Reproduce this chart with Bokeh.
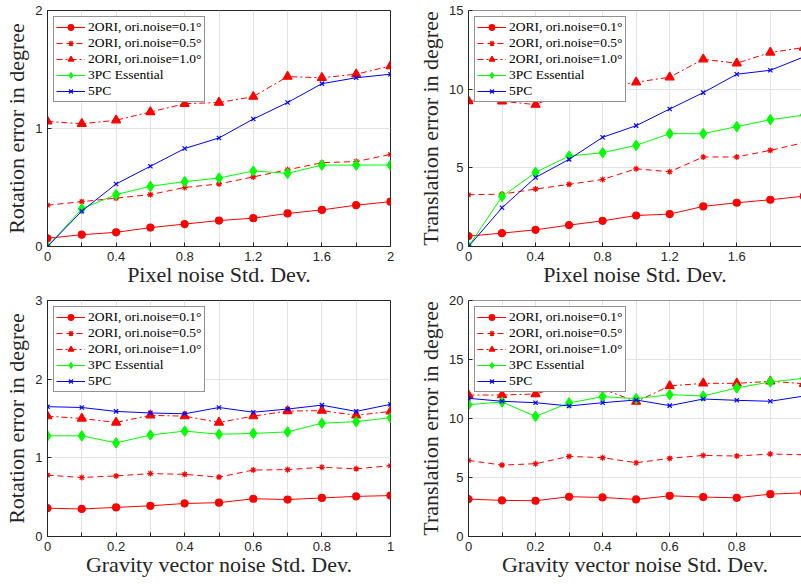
from bokeh.plotting import figure
from bokeh.models import FixedTicker, Range1d, Span
from bokeh.layouts import column, row
from bokeh.embed import file_html
from bokeh.resources import INLINE

# ---------------- data ----------------
pixel_noise = [0.0, 0.2, 0.4, 0.6, 0.8, 1.0, 1.2, 1.4, 1.6, 1.8, 2.0]
gravity_noise = [0.0, 0.1, 0.2, 0.3, 0.4, 0.5, 0.6, 0.7, 0.8, 0.9, 1.0]

labels = ["2ORI, ori.noise=0.1°", "2ORI, ori.noise=0.5°", "2ORI, ori.noise=1.0°",
          "3PC Essential", "5PC"]

# pixel noise -> rotation error
rot_px_01 = [0.07, 0.10, 0.12, 0.16, 0.19, 0.22, 0.24, 0.28, 0.31, 0.35, 0.38]
rot_px_05 = [0.35, 0.38, 0.41, 0.44, 0.50, 0.53, 0.59, 0.65, 0.71, 0.72, 0.78]
rot_px_10 = [1.06, 1.04, 1.07, 1.14, 1.21, 1.22, 1.27, 1.44, 1.43, 1.46, 1.53]
rot_px_3pc = [0.0, 0.32, 0.44, 0.51, 0.55, 0.58, 0.64, 0.62, 0.69, 0.69, 0.69]
rot_px_5pc = [0.0, 0.30, 0.53, 0.68, 0.83, 0.92, 1.08, 1.22, 1.38, 1.43, 1.46]

# pixel noise -> translation error
tra_px_01 = [0.66, 0.85, 1.06, 1.36, 1.63, 1.97, 2.06, 2.55, 2.78, 2.97, 3.2]
tra_px_05 = [3.29, 3.33, 3.65, 3.95, 4.26, 4.94, 4.75, 5.69, 5.69, 6.11, 6.6]
tra_px_10 = [9.25, 9.23, 9.02, 9.9, 10.1, 10.44, 10.76, 11.9, 11.65, 12.33, 12.65]
tra_px_3pc = [0.0, 3.18, 4.71, 5.75, 5.96, 6.43, 7.17, 7.17, 7.62, 8.06, 8.35]
tra_px_5pc = [0.0, 2.46, 4.39, 5.54, 6.94, 7.68, 8.74, 9.78, 10.95, 11.2, 12.05]

# gravity noise -> rotation error
rot_g_01 = [0.36, 0.35, 0.37, 0.39, 0.42, 0.43, 0.48, 0.47, 0.49, 0.51, 0.52]
rot_g_05 = [0.78, 0.75, 0.77, 0.80, 0.79, 0.755, 0.845, 0.85, 0.88, 0.86, 0.90]
rot_g_10 = [1.53, 1.50, 1.45, 1.54, 1.53, 1.45, 1.53, 1.595, 1.60, 1.54, 1.59]
rot_g_3pc = [1.28, 1.28, 1.19, 1.29, 1.34, 1.30, 1.31, 1.33, 1.44, 1.46, 1.51]
rot_g_5pc = [1.65, 1.64, 1.59, 1.57, 1.56, 1.64, 1.58, 1.62, 1.67, 1.59, 1.68]

# gravity noise -> translation error
tra_g_01 = [3.17, 3.06, 3.03, 3.37, 3.31, 3.14, 3.45, 3.34, 3.28, 3.59, 3.7]
tra_g_05 = [6.45, 6.05, 6.17, 6.79, 6.68, 6.25, 6.62, 6.87, 6.82, 6.99, 6.93]
tra_g_10 = [11.99, 11.99, 12.08, 12.9, 12.5, 11.43, 12.76, 12.98, 12.98, 13.15, 12.95]
tra_g_3pc = [11.17, 11.4, 10.18, 11.32, 11.85, 11.68, 12.02, 11.91, 12.59, 13.1, 13.4]
tra_g_5pc = [11.71, 11.46, 11.34, 11.06, 11.34, 11.57, 11.09, 11.65, 11.54, 11.46, 11.9]

px_major = [0, 0.4, 0.8, 1.2, 1.6, 2]
px_minor = [0.2, 0.6, 1.0, 1.4, 1.8]
g_major = [0, 0.2, 0.4, 0.6, 0.8, 1]
g_minor = [0.1, 0.3, 0.5, 0.7, 0.9]

# ---------------- styles ----------------
styles = [
    dict(color="#ff0000", dash="solid", marker="circle", size=7),
    dict(color="#ff0000", dash="6 4", marker="asterisk", size=6),
    dict(color="#ff0000", dash="6 3 2 3", marker="triangle", size=9),
    dict(color="#00ff00", dash="solid", marker="diamond", size=10),
    dict(color="#0000ff", dash="solid", marker="x", size=6),
]

AX = "#262626"
GRID = "#e3e3e3"
SERIF = "Liberation Serif"
SANS = "Liberation Sans"


def make_fig(x, ys, xlabel, ylabel, xr, yr, xmaj, xmin, ymaj, width, height,
             mbl, mbr, mbt, mbb, full_box):
    p = figure(width=width, height=height, output_backend="svg",
               toolbar_location=None, x_range=Range1d(*xr), y_range=Range1d(*yr),
               min_border_left=mbl, min_border_right=mbr,
               min_border_top=mbt, min_border_bottom=mbb)
    p.outline_line_color = AX if full_box else None
    p.background_fill_color = "white"
    p.border_fill_color = "white"

    p.xaxis.ticker = FixedTicker(ticks=xmaj, minor_ticks=xmin)
    p.yaxis.ticker = FixedTicker(ticks=ymaj, minor_ticks=[])
    for ax in (p.xaxis[0], p.yaxis[0]):
        ax.axis_line_color = AX
        ax.major_tick_line_color = AX
        ax.minor_tick_line_color = AX
        ax.major_tick_in = 4
        ax.major_tick_out = 0
        ax.minor_tick_in = 4
        ax.minor_tick_out = 0
        ax.major_label_text_font = SANS
        ax.major_label_text_font_size = "13px"
        ax.major_label_text_color = AX
        ax.major_label_standoff = 5
        ax.axis_label_text_font = SERIF
        ax.axis_label_text_font_size = "22px"
        ax.axis_label_text_font_style = "normal"
        ax.axis_label_text_color = AX
    p.xaxis.axis_label = xlabel
    p.yaxis.axis_label = ylabel
    p.xaxis.axis_label_standoff = -2
    p.yaxis.axis_label_standoff = 3

    if not full_box:
        p.add_layout(Span(location=yr[1], dimension="width", line_color=AX,
                          line_width=1))

    p.xgrid.grid_line_color = GRID
    p.xgrid.minor_grid_line_color = GRID
    p.ygrid.grid_line_color = GRID

    for lab, y, st in zip(labels, ys, styles):
        p.line(x, y, line_color=st["color"], line_width=1, line_dash=st["dash"],
               legend_label=lab)
        p.scatter(x, y, marker=st["marker"], size=st["size"],
                  line_color=st["color"], fill_color=st["color"], line_width=1.2,
                  legend_label=lab)

    lg = p.legend[0]
    lg.location = "top_left"
    lg.margin = 6
    lg.padding = 2
    lg.spacing = 0
    lg.label_height = 14
    lg.glyph_height = 14
    lg.glyph_width = 29
    lg.label_standoff = 3
    lg.label_text_font = SERIF
    lg.label_text_font_size = "13.5px"
    lg.label_text_color = "black"
    lg.border_line_color = AX
    lg.border_line_width = 1
    lg.background_fill_color = "white"
    lg.background_fill_alpha = 1.0
    return p


p1 = make_fig(pixel_noise, [rot_px_01, rot_px_05, rot_px_10, rot_px_3pc, rot_px_5pc],
              "Pixel noise Std. Dev.", "Rotation error in degree",
              (0, 2), (0, 2), px_major, px_minor, [0, 1, 2],
              400, 290, 47, 10, 10, 44, True)
p2 = make_fig(pixel_noise, [tra_px_01, tra_px_05, tra_px_10, tra_px_3pc, tra_px_5pc],
              "Pixel noise Std. Dev.", "Translation error in degree",
              (0, 1.986), (0, 15), px_major, px_minor, [0, 5, 10, 15],
              401, 290, 68, 0, 10, 44, False)
p3 = make_fig(gravity_noise, [rot_g_01, rot_g_05, rot_g_10, rot_g_3pc, rot_g_5pc],
              "Gravity vector noise Std. Dev.", "Rotation error in degree",
              (0, 1), (0, 3), g_major, g_minor, [0, 1, 2, 3],
              400, 294, 47, 10, 10, 48, True)
p4 = make_fig(gravity_noise, [tra_g_01, tra_g_05, tra_g_10, tra_g_3pc, tra_g_5pc],
              "Gravity vector noise Std. Dev.", "Translation error in degree",
              (0, 0.993), (0, 20), g_major, g_minor, [0, 5, 10, 15, 20],
              401, 294, 68, 0, 10, 48, False)

layout = column(row(p1, p2, spacing=0), row(p3, p4, spacing=0), spacing=0)

with open("out.html", "w") as f:
    f.write(file_html(layout, INLINE))
